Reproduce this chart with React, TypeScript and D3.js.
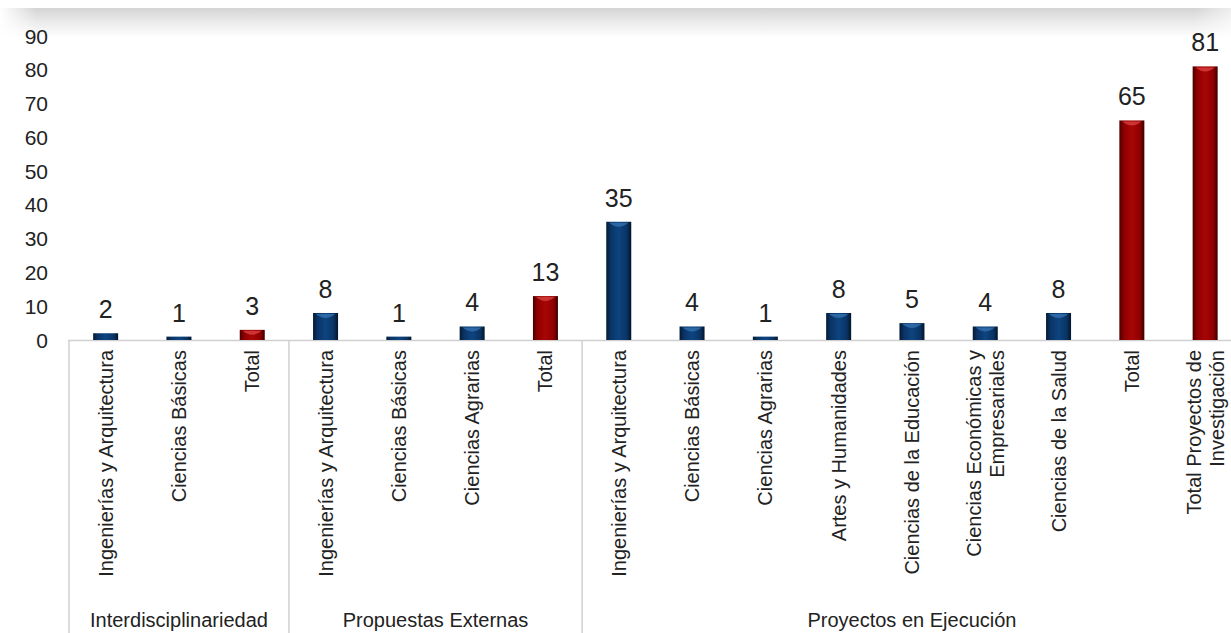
import React from "react";
import * as d3 from "d3";

const groupNames = ["Interdisciplinariedad", "Propuestas Externas", "Proyectos en Ejecución"];
const groupSizes = [3, 4, 9];

const categoryLabels = [
  ["Ingenierías y Arquitectura"],
  ["Ciencias Básicas"],
  ["Total"],
  ["Ingenierías y Arquitectura"],
  ["Ciencias Básicas"],
  ["Ciencias Agrarias"],
  ["Total"],
  ["Ingenierías y Arquitectura"],
  ["Ciencias Básicas"],
  ["Ciencias Agrarias"],
  ["Artes y Humanidades"],
  ["Ciencias de la Educación"],
  ["Ciencias Económicas y", "Empresariales"],
  ["Ciencias de la Salud"],
  ["Total"],
  ["Total Proyectos de", "Investigación"],
];

const values = [2, 1, 3, 8, 1, 4, 13, 35, 4, 1, 8, 5, 4, 8, 65, 81];
const isTotal = [false, false, true, false, false, false, true, false, false, false, false, false, false, false, true, true];

const yTicks = [0, 10, 20, 30, 40, 50, 60, 70, 80, 90];

const W = 1231;
const H = 633;
const FONT = "'Liberation Sans', Arial, Helvetica, sans-serif";

export default function App() {
  const x0 = 69;
  const slot = 73.3;
  const x = d3
    .scaleBand<number>()
    .domain(d3.range(values.length))
    .range([x0, x0 + slot * values.length])
    .paddingInner(0)
    .paddingOuter(0);
  const y = d3.scaleLinear().domain([0, 90]).range([340, 36]);
  const barW = 25;
  const base = y(0);

  const bounds: number[] = [];
  let acc = 0;
  bounds.push(x(0)!);
  groupSizes.forEach((n) => {
    acc += n;
    bounds.push(x0 + slot * acc);
  });

  return (
    <svg
      width={W}
      height={H}
      style={{ position: "absolute", left: 0, top: 0, background: "#fff" }}
      fontFamily={FONT}
    >
      <defs>
        <linearGradient id="topShade" x1="0" y1="0" x2="0" y2="1">
          <stop offset="0" stopColor="#d4d4d4" />
          <stop offset="0.5" stopColor="#ececec" />
          <stop offset="1" stopColor="#ffffff" />
        </linearGradient>
        <linearGradient id="topFadeH" x1="0" y1="0" x2="1" y2="0">
          <stop offset="0" stopColor="#fff" stopOpacity="1" />
          <stop offset="0.03" stopColor="#fff" stopOpacity="0" />
          <stop offset="0.97" stopColor="#fff" stopOpacity="0" />
          <stop offset="1" stopColor="#fff" stopOpacity="0.6" />
        </linearGradient>
        <linearGradient id="blueBar" x1="0" y1="0" x2="1" y2="0">
          <stop offset="0" stopColor="#041a33" />
          <stop offset="0.18" stopColor="#0a3466" />
          <stop offset="0.5" stopColor="#0e447f" />
          <stop offset="0.82" stopColor="#0a3466" />
          <stop offset="1" stopColor="#031529" />
        </linearGradient>
        <linearGradient id="redBar" x1="0" y1="0" x2="1" y2="0">
          <stop offset="0" stopColor="#4a0000" />
          <stop offset="0.18" stopColor="#8f0000" />
          <stop offset="0.5" stopColor="#a80505" />
          <stop offset="0.82" stopColor="#8f0000" />
          <stop offset="1" stopColor="#3d0000" />
        </linearGradient>
      </defs>

      <rect x={0} y={8} width={W} height={30} fill="url(#topShade)" />
      <rect x={0} y={8} width={W} height={30} fill="url(#topFadeH)" />

      {yTicks.map((t) => (
        <text
          key={t}
          x={48}
          y={y(t)}
          textAnchor="end"
          dominantBaseline="central"
          fontSize={21}
          fill="#222"
        >
          {t}
        </text>
      ))}

      <line x1={x0 - 1} x2={W} y1={base + 0.5} y2={base + 0.5} stroke="#d0d0d0" strokeWidth={1.5} />
      {bounds.map((b, i) => (
        <line key={i} x1={b} x2={b} y1={base} y2={H} stroke="#d0d0d0" strokeWidth={1.5} />
      ))}

      {values.map((v, i) => {
        const cx = x(i)! + x.bandwidth() / 2;
        const top = y(v);
        const h = base - top;
        const fill = isTotal[i] ? "url(#redBar)" : "url(#blueBar)";
        const hl = isTotal[i] ? "#e04848" : "#3a78b8";
        return (
          <g key={i}>
            <rect x={cx - barW / 2} y={top} width={barW} height={h} fill={fill} />
            {h > 8 && (
              <path
                d={`M${cx - barW / 2 + 3},${top + 1} L${cx + barW / 2 - 3},${top + 1} Q${cx},${top + 9} ${cx - barW / 2 + 3},${top + 1}Z`}
                fill={hl}
                opacity={0.7}
              />
            )}
            <text x={cx} y={top - 15} textAnchor="middle" fontSize={25} fill="#222">
              {v}
            </text>
          </g>
        );
      })}

      {categoryLabels.map((lines, i) => {
        const cx = x(i)! + x.bandwidth() / 2;
        const n = lines.length;
        return (
          <g key={i} transform={`translate(${cx},350) rotate(-90)`}>
            {lines.map((ln, j) => (
              <text
                key={j}
                x={0}
                y={(j - (n - 1) / 2) * 23}
                textAnchor="end"
                dominantBaseline="central"
                fontSize={20}
                fill="#222"
              >
                {ln}
              </text>
            ))}
          </g>
        );
      })}

      {groupNames.map((g, i) => (
        <text
          key={g}
          x={(bounds[i] + bounds[i + 1]) / 2}
          y={620}
          textAnchor="middle"
          dominantBaseline="central"
          fontSize={20}
          fill="#222"
        >
          {g}
        </text>
      ))}
    </svg>
  );
}
